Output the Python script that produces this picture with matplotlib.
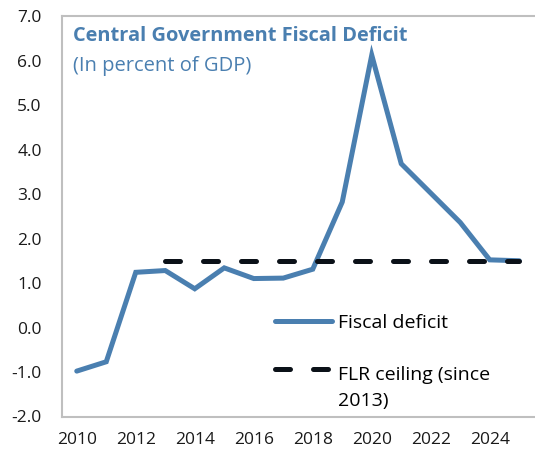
import matplotlib
matplotlib.use("Agg")
import matplotlib.pyplot as plt
from matplotlib.legend_handler import HandlerLine2D

plt.rcParams['font.family'] = ['Open Sans', 'DejaVu Sans']

years = list(range(2010, 2026))
deficit = [-0.98, -0.77, 1.24, 1.28, 0.87, 1.34, 1.10, 1.11, 1.31, 2.82,
           6.12, 3.68, 3.02, 2.36, 1.52, 1.50]
ceiling_years = list(range(2013, 2026))
ceiling = [1.5] * len(ceiling_years)

blue = '#4A7FB0'


class FirstLineHandler(HandlerLine2D):
    # put the key next to the first line of a two-line label
    def create_artists(self, legend, orig_handle, xdescent, ydescent,
                       width, height, fontsize, trans):
        arts = super().create_artists(legend, orig_handle, xdescent, ydescent,
                                      width, height, fontsize, trans)
        for a in arts:
            a.set_ydata([y + fontsize * 0.98 for y in a.get_ydata()])
        return arts


fig = plt.figure(figsize=(5.35, 4.53), dpi=100)
ax = fig.add_axes([62 / 535, 36.5 / 453, 472 / 535, 400.5 / 453])

ax.plot(years, deficit, color=blue, lw=3.6, solid_capstyle='round',
        solid_joinstyle='miter', label='Fiscal deficit', zorder=2)
ceil_line, = ax.plot(ceiling_years, ceiling, color='#0b1118', lw=3.6,
                     dashes=(3.0, 4.6), dash_capstyle='round',
                     label='FLR ceiling (since\n2013)', zorder=3)

ax.set_xlim(2009.5, 2025.5)
ax.set_ylim(-2, 7)
ax.set_xticks(range(2010, 2025, 2))
ax.set_yticks(range(-2, 8))
ax.set_yticklabels([f'{v:.1f}' for v in range(-2, 8)])
ax.tick_params(length=0, labelsize=12.5, colors='#1a1a1a')
ax.tick_params(axis='y', pad=14.5)
ax.tick_params(axis='x', pad=11)

for side in ['left', 'top', 'bottom']:
    ax.spines[side].set_color('#BFBFBF')
    ax.spines[side].set_linewidth(1.5)
ax.spines['right'].set_visible(False)

ax.text(0.023, 0.975, 'Central Government Fiscal Deficit', transform=ax.transAxes,
        fontsize=14.4, fontweight='bold', color=blue, va='top', ha='left')
ax.text(0.023, 0.9, '(In percent of GDP)', transform=ax.transAxes,
        fontsize=14.5, color=blue, va='top', ha='left')

leg = ax.legend(loc='upper left', bbox_to_anchor=(0.4358, 0.275), frameon=False,
                fontsize=14, handlelength=2.9, handletextpad=0.3,
                labelspacing=1.72, borderaxespad=0,
                handler_map={ceil_line: FirstLineHandler()})
leg.get_texts()[1].set_linespacing(1.62)

fig.savefig('out.png', dpi=100)
